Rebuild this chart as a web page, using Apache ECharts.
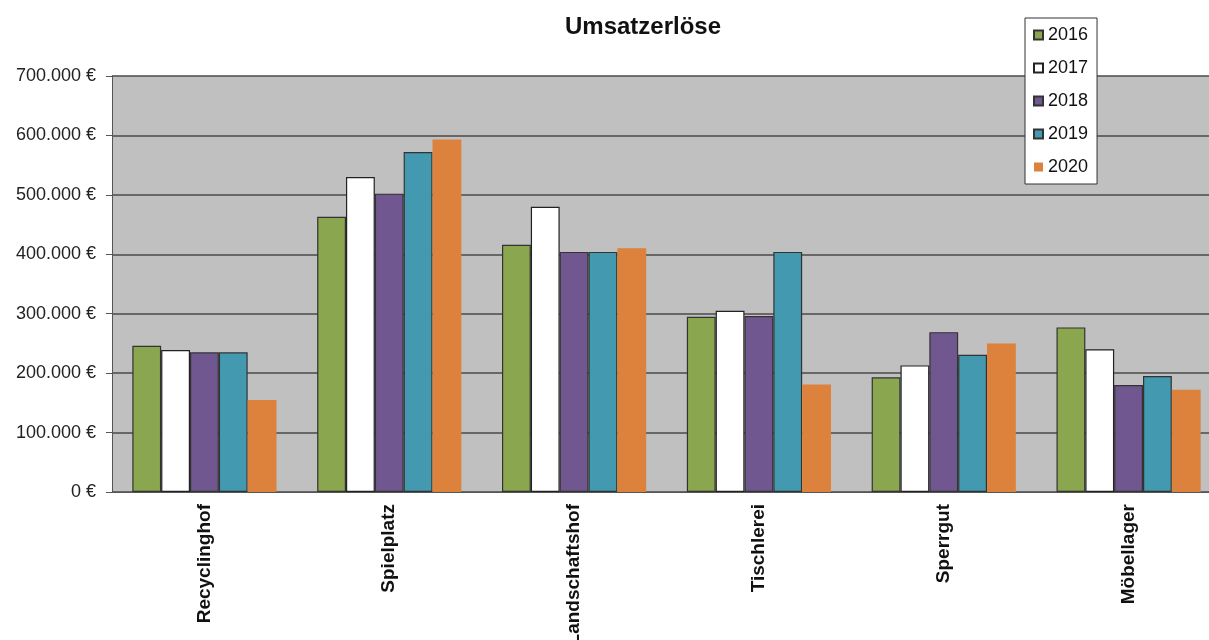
<!DOCTYPE html>
<html>
<head>
<meta charset="utf-8">
<script src="https://cdn.jsdelivr.net/npm/echarts@6/dist/echarts.min.js"></script>
<style>
html,body{margin:0;padding:0;background:#fff;}
#chart{width:1209px;height:640px;}
</style>
</head>
<body>
<div id="chart"></div>
<script>
const categories = ['Recyclinghof','Spielplatz','Landschaftshof','Tischlerei','Sperrgut','Möbellager'];
const years = ['2016','2017','2018','2019','2020'];
const values2016 = [246000, 463000, 416000, 295000, 193000, 277000];
const values2017 = [239000, 530000, 480000, 305000, 213000, 240000];
const values2018 = [235000, 502000, 404000, 296000, 269000, 180000];
const values2019 = [235000, 572000, 404000, 404000, 231000, 195000];
const values2020 = [155000, 593000, 410000, 181000, 250000, 172000];
const yTicks = [0, 100000, 200000, 300000, 400000, 500000, 600000, 700000];

const seriesValues = [values2016, values2017, values2018, values2019, values2020];
const colors = ['#8aa64e', '#ffffff', '#71578f', '#4299b0', '#dc823d'];
const borders = ['#333', '#222', '#333', '#333', null];

function fmt(v){
  return String(v).replace(/\B(?=(\d{3})+(?!\d))/g, '.') + ' €';
}

const chart = echarts.init(document.getElementById('chart'));
const font = 'Liberation Sans, Arial, sans-serif';
chart.setOption({
  backgroundColor: '#ffffff',
  animation: false,
  title: {
    text: 'Umsatzerlöse',
    left: 638, textAlign: 'center', top: 10,
    textStyle: {fontFamily: font, fontSize: 24, fontWeight: 'bold', color: '#111'}
  },
  legend: {
    orient: 'vertical',
    left: 1025, top: 18,
    data: years,
    icon: 'rect',
    backgroundColor: '#ffffff',
    borderColor: '#333', borderWidth: 1,
    padding: [8, 9, 8, 8],
    itemWidth: 9, itemHeight: 9, itemGap: 15,
    textStyle: {fontFamily: font, fontSize: 18, color: '#111'}
  },
  grid: {left: 112, top: 76, height: 416, width: 1109, containLabel: false,
         outerBoundsMode: 'none',
         show: true, backgroundColor: '#c0c0c0', borderWidth: 0},
  xAxis: {
    type: 'category',
    data: categories,
    axisLine: {lineStyle: {color: '#555', width: 1}},
    axisTick: {length: 5, lineStyle: {color: '#555'}},
    axisLabel: {rotate: 90, margin: 12, fontFamily: font, fontSize: 19, fontWeight: 'bold', color: '#111'}
  },
  yAxis: {
    type: 'value', min: yTicks[0], max: yTicks[yTicks.length-1], interval: 100000,
    axisLine: {show: true, lineStyle: {color: '#555', width: 1}},
    axisTick: {show: true, length: 6, lineStyle: {color: '#555'}},
    splitLine: {lineStyle: {color: '#4a4a4a', width: 1.5}},
    axisLabel: {formatter: fmt, margin: 16, fontFamily: font, fontSize: 18, color: '#222'}
  },
  series: years.map((y, i) => ({
    name: y,
    type: 'bar',
    data: seriesValues[i],
    barGap: '0%',
    barCategoryGap: '22%',
    itemStyle: {
      color: colors[i],
      borderColor: borders[i] || colors[i],
      borderWidth: borders[i] ? 1.2 : 0
    }
  }))
});
</script>
</body>
</html>
